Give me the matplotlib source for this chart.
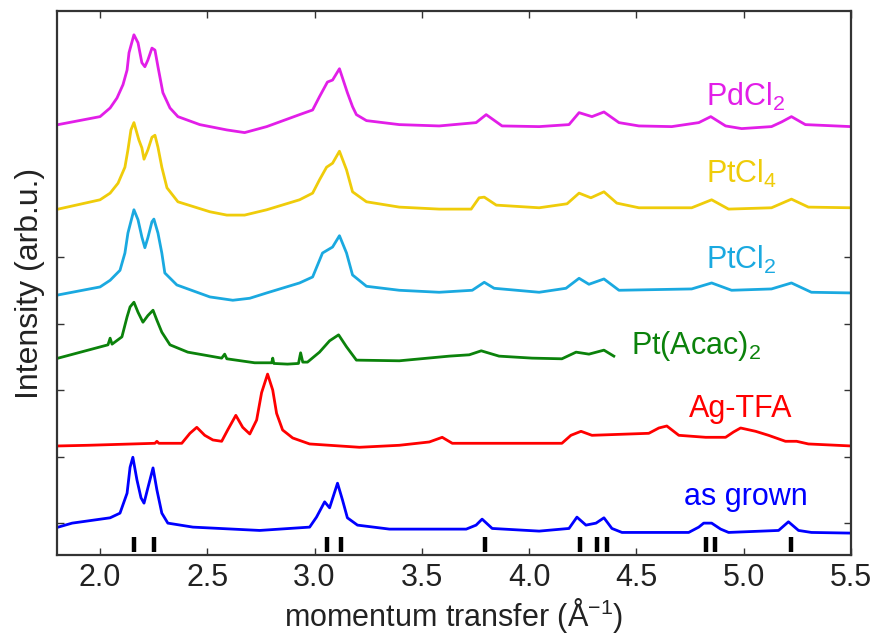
import numpy as np
import matplotlib
matplotlib.use('Agg')
import matplotlib.pyplot as plt

plt.rcParams['font.family'] = ['Liberation Sans', 'DejaVu Sans']
plt.rcParams['mathtext.fontset'] = 'custom'
plt.rcParams['mathtext.rm'] = 'Liberation Sans'
plt.rcParams['mathtext.it'] = 'Liberation Sans:italic'

# curves already offset
pdcl2_x = [1.805, 2.000, 2.047, 2.079, 2.107, 2.126, 2.135, 2.158, 2.177, 2.195, 2.209, 2.223, 2.242, 2.256, 2.270,
           2.293, 2.326, 2.363, 2.465, 2.591, 2.674, 2.777, 2.930, 2.991, 3.023, 3.060, 3.084, 3.116, 3.153, 3.177,
           3.195, 3.242, 3.395, 3.581, 3.753, 3.800, 3.874, 4.047, 4.186, 4.233, 4.293, 4.349, 4.419, 4.512, 4.665,
           4.791, 4.847, 4.916, 4.991, 5.130, 5.177, 5.223, 5.288, 5.5]
pdcl2_y = [5.99, 6.11, 6.24, 6.39, 6.59, 6.81, 7.07, 7.34, 7.22, 6.92, 6.86, 6.96, 7.14, 7.11, 6.86,
           6.47, 6.24, 6.11, 5.99, 5.91, 5.87, 5.96, 6.14, 6.21, 6.41, 6.63, 6.66, 6.83, 6.47, 6.26,
           6.14, 6.05, 5.99, 5.97, 6.02, 6.14, 5.97, 5.96, 5.99, 6.17, 6.11, 6.18, 6.02, 5.97, 5.96,
           6.02, 6.11, 5.97, 5.93, 5.96, 6.03, 6.11, 5.99, 5.96]

ptcl4_x = [1.805, 2.000, 2.047, 2.084, 2.116, 2.130, 2.144, 2.158, 2.181, 2.195, 2.205, 2.223, 2.242, 2.256, 2.270,
           2.288, 2.312, 2.363, 2.512, 2.591, 2.674, 2.777, 2.930, 2.991, 3.023, 3.056, 3.084, 3.116, 3.149, 3.177,
           3.242, 3.395, 3.581, 3.730, 3.767, 3.791, 3.847, 4.047, 4.177, 4.233, 4.288, 4.349, 4.409, 4.512, 4.758,
           4.851, 4.930, 5.130, 5.223, 5.302, 5.5]
ptcl4_y = [4.72, 4.86, 4.96, 5.11, 5.35, 5.61, 5.91, 6.02, 5.76, 5.64, 5.47, 5.61, 5.80, 5.83, 5.65,
           5.35, 5.04, 4.83, 4.68, 4.63, 4.63, 4.71, 4.86, 4.96, 5.16, 5.35, 5.41, 5.59, 5.31, 4.98,
           4.83, 4.75, 4.72, 4.72, 4.89, 4.90, 4.78, 4.74, 4.80, 4.96, 4.89, 4.98, 4.81, 4.74, 4.74,
           4.86, 4.72, 4.74, 4.87, 4.75, 4.74]

ptcl2_x = [1.805, 2.000, 2.047, 2.093, 2.116, 2.130, 2.158, 2.177, 2.195, 2.209, 2.223, 2.242, 2.251, 2.270, 2.288,
           2.302, 2.358, 2.512, 2.619, 2.698, 2.777, 2.930, 2.991, 3.037, 3.084, 3.116, 3.149, 3.177, 3.242, 3.395,
           3.581, 3.735, 3.791, 3.837, 4.047, 4.172, 4.233, 4.279, 4.349, 4.419, 4.758, 4.851, 4.944, 5.130, 5.223,
           5.316, 5.5]
ptcl2_y = [3.43, 3.55, 3.65, 3.80, 4.06, 4.36, 4.71, 4.56, 4.30, 4.14, 4.29, 4.53, 4.57, 4.36, 4.06,
           3.76, 3.58, 3.40, 3.35, 3.38, 3.46, 3.61, 3.70, 4.06, 4.15, 4.32, 4.06, 3.73, 3.56, 3.50,
           3.47, 3.50, 3.62, 3.53, 3.47, 3.53, 3.68, 3.59, 3.67, 3.50, 3.52, 3.61, 3.50, 3.52, 3.61,
           3.47, 3.46]

acac_x = [1.805, 2.037, 2.047, 2.056, 2.102, 2.126, 2.140, 2.158, 2.177, 2.200, 2.223, 2.247, 2.265, 2.288, 2.326,
          2.409, 2.567, 2.581, 2.591, 2.721, 2.800, 2.805, 2.810, 2.874, 2.925, 2.935, 2.945, 2.967, 3.023, 3.070,
          3.112, 3.149, 3.195, 3.395, 3.628, 3.721, 3.777, 3.860, 4.014, 4.153, 4.219, 4.279, 4.349, 4.395]
acac_y = [2.48, 2.68, 2.78, 2.69, 2.80, 3.10, 3.25, 3.32, 3.17, 3.02, 3.12, 3.20, 3.05, 2.87, 2.68,
          2.57, 2.48, 2.54, 2.47, 2.41, 2.41, 2.48, 2.40, 2.39, 2.40, 2.56, 2.42, 2.42, 2.57, 2.74,
          2.83, 2.65, 2.45, 2.44, 2.51, 2.53, 2.59, 2.51, 2.48, 2.47, 2.57, 2.54, 2.60, 2.51]

agtfa_x = [1.805, 1.944, 2.256, 2.265, 2.274, 2.381, 2.419, 2.451, 2.488, 2.526, 2.567, 2.595, 2.633, 2.665, 2.698,
           2.730, 2.753, 2.781, 2.805, 2.823, 2.851, 2.898, 2.977, 3.209, 3.395, 3.535, 3.595, 3.642, 4.153, 4.195,
           4.242, 4.293, 4.558, 4.605, 4.642, 4.698, 4.823, 4.916, 4.953, 4.986, 5.056, 5.116, 5.195, 5.247, 5.302,
           5.5]
agtfa_y = [1.16, 1.17, 1.20, 1.23, 1.20, 1.20, 1.35, 1.44, 1.32, 1.25, 1.23, 1.40, 1.62, 1.44, 1.34,
           1.55, 1.96, 2.24, 2.00, 1.65, 1.40, 1.28, 1.19, 1.14, 1.17, 1.22, 1.29, 1.20, 1.20, 1.32,
           1.38, 1.32, 1.35, 1.43, 1.46, 1.32, 1.29, 1.29, 1.37, 1.43, 1.38, 1.32, 1.23, 1.23, 1.19,
           1.16]

grown_x = [1.805, 1.870, 2.047, 2.093, 2.126, 2.140, 2.153, 2.172, 2.191, 2.205, 2.223, 2.247, 2.265, 2.288, 2.316,
           2.433, 2.744, 2.977, 3.009, 3.047, 3.070, 3.107, 3.130, 3.153, 3.200, 3.349, 3.707, 3.753, 3.781, 3.828,
           4.047, 4.186, 4.223, 4.265, 4.312, 4.349, 4.386, 4.433, 4.744, 4.791, 4.814, 4.851, 4.893, 4.930, 5.163,
           5.209, 5.256, 5.316, 5.5]
grown_y = [-0.06, 0.00, 0.08, 0.15, 0.45, 0.84, 0.99, 0.65, 0.38, 0.30, 0.53, 0.83, 0.50, 0.15, 0.00,
           -0.06, -0.11, -0.06, 0.09, 0.32, 0.23, 0.60, 0.35, 0.08, -0.03, -0.09, -0.09, -0.03, 0.06, -0.08,
           -0.12, -0.08, 0.09, -0.03, 0.00, 0.08, -0.08, -0.14, -0.14, -0.06, 0.00, 0.00, -0.09, -0.14, -0.11,
           0.02, -0.11, -0.14, -0.15]

# reference reflection positions
refl_pos = [2.158, 2.251, 3.056, 3.121, 3.795, 4.237, 4.316, 4.363, 4.823, 4.865, 5.219]

labels = ['PdCl$_2$', 'PtCl$_4$', 'PtCl$_2$', 'Pt(Acac)$_2$', 'Ag-TFA', 'as grown']
label_x = [4.823, 4.823, 4.823, 4.474, 4.744, 4.721]
label_y = [6.27, 5.11, 3.82, 2.54, 1.59, 0.27]
colors = ['#e21ee8', '#efcc0a', '#1aa9e0', '#0b820b', '#ff0000', '#0000ff']

fig = plt.figure(figsize=(8.79, 6.38), dpi=100)
ax = fig.add_axes([0.065, 0.130, 0.903, 0.853])

curves = [(pdcl2_x, pdcl2_y), (ptcl4_x, ptcl4_y), (ptcl2_x, ptcl2_y),
          (acac_x, acac_y), (agtfa_x, agtfa_y), (grown_x, grown_y)]
for (xs, ys), c in zip(curves, colors):
    ax.plot(xs, ys, color=c, lw=2.0, solid_joinstyle='round')

for lab, lx, ly, c in zip(labels, label_x, label_y, colors):
    ax.text(lx, ly, lab, color=c, fontsize=22, ha='left', va='baseline')

ax.vlines(refl_pos, -0.44, -0.21, color='black', lw=3.2)

ax.set_xlim(1.8, 5.5)
ax.set_ylim(-0.48, 7.7)
ax.set_xticks([2.0, 2.5, 3.0, 3.5, 4.0, 4.5, 5.0, 5.5])
ax.set_xticklabels(['2.0', '2.5', '3.0', '3.5', '4.0', '4.5', '5.0', '5.5'])
ax.set_yticks([0, 1, 2, 3, 4])
ax.set_yticklabels([])
ax.tick_params(direction='in', length=5, width=1, top=True, right=True,
               labelsize=22, pad=6, colors='#333333', labelcolor='#222222')
for s in ax.spines.values():
    s.set_linewidth(1.6)
    s.set_color('#333333')

ax.set_xlabel('momentum transfer (Å$^{-1}$)', fontsize=22, labelpad=2, color='#222222')
ax.set_ylabel('Intensity (arb.u.)', fontsize=23, labelpad=3, color='#222222')

fig.savefig('out.png', dpi=100)
